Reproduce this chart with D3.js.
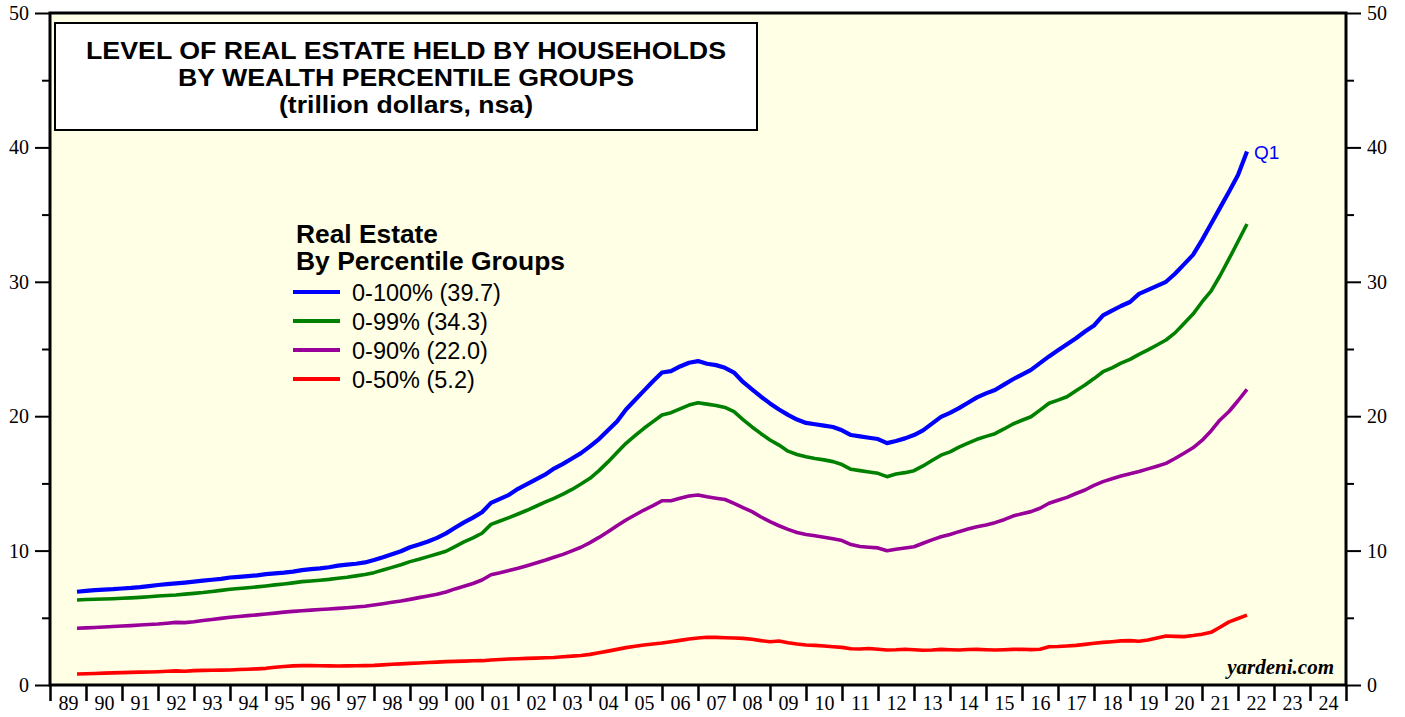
<!DOCTYPE html>
<html>
<head>
<meta charset="utf-8">
<script src="https://d3js.org/d3.v7.min.js"></script>
<style>
  body { margin: 0; background: #ffffff; }
</style>
</head>
<body>
<script>
//real estate held by households, quarterly, 1989Q3 - 2022Q1 (trillion dollars)

//first quarter shown, series run quarterly from here
var startYear = 1989, startQuarter = 3;

//0-100% (all households)
var allHouseholds = [
  6.94, 7.00,
  7.06, 7.10, 7.13, 7.18,
  7.22, 7.28, 7.36, 7.44,
  7.50, 7.56, 7.62, 7.69,
  7.76, 7.83, 7.90, 8.00,
  8.05, 8.10, 8.16, 8.25,
  8.30, 8.36, 8.44, 8.55,
  8.62, 8.68, 8.76, 8.88,
  8.95, 9.02, 9.12, 9.30,
  9.50, 9.72, 9.95, 10.25,
  10.45, 10.68, 10.95, 11.28,
  11.70, 12.10, 12.45, 12.85,
  13.55, 13.85, 14.15, 14.60,
  14.95, 15.30, 15.65, 16.10,
  16.45, 16.85, 17.25, 17.75,
  18.30, 18.95, 19.60, 20.50,
  21.20, 21.90, 22.60, 23.25,
  23.35, 23.70, 23.98, 24.10,
  23.90, 23.80, 23.60, 23.25,
  22.55, 22.00, 21.45, 20.95,
  20.50, 20.10, 19.75, 19.50,
  19.40, 19.30, 19.20, 18.95,
  18.60, 18.50, 18.40, 18.30,
  18.00, 18.15, 18.35, 18.60,
  18.95, 19.45, 19.95, 20.25,
  20.60, 21.00, 21.40, 21.70,
  21.95, 22.35, 22.75, 23.10,
  23.45, 23.95, 24.45, 24.90,
  25.35, 25.80, 26.30, 26.75,
  27.50, 27.85, 28.20, 28.50,
  29.10, 29.40, 29.70, 30.00,
  30.60, 31.30, 32.00, 33.10,
  34.30, 35.50, 36.70, 37.95,
  39.70
];

//0-99%
var bottom99 = [
  6.32, 6.36,
  6.38, 6.40, 6.42, 6.45,
  6.48, 6.52, 6.57, 6.62,
  6.66, 6.70, 6.76, 6.82,
  6.88, 6.96, 7.04, 7.12,
  7.18, 7.24, 7.30, 7.37,
  7.45, 7.52, 7.60, 7.69,
  7.74, 7.80, 7.86, 7.94,
  8.02, 8.12, 8.22, 8.36,
  8.55, 8.75, 8.95, 9.18,
  9.35, 9.55, 9.75, 9.95,
  10.30, 10.65, 10.95, 11.29,
  11.95, 12.20, 12.45, 12.72,
  13.00, 13.30, 13.60, 13.89,
  14.20, 14.55, 14.95, 15.38,
  15.95, 16.60, 17.30, 17.98,
  18.55, 19.10, 19.60, 20.09,
  20.26, 20.55, 20.83, 21.00,
  20.90, 20.80, 20.65, 20.34,
  19.75, 19.20, 18.70, 18.23,
  17.85, 17.40, 17.15, 16.99,
  16.85, 16.75, 16.62, 16.40,
  16.05, 15.95, 15.85, 15.75,
  15.50, 15.70, 15.80, 15.95,
  16.30, 16.70, 17.10, 17.35,
  17.70, 18.00, 18.28, 18.50,
  18.70, 19.05, 19.42, 19.70,
  19.96, 20.45, 20.96, 21.20,
  21.45, 21.90, 22.32, 22.80,
  23.31, 23.60, 23.95, 24.23,
  24.60, 24.93, 25.30, 25.67,
  26.20, 26.90, 27.60, 28.50,
  29.30, 30.45, 31.70, 33.00,
  34.30
];

//0-90%
var bottom90 = [
  4.22, 4.25,
  4.28, 4.31, 4.35, 4.39,
  4.42, 4.46, 4.50, 4.54,
  4.60, 4.66, 4.64, 4.71,
  4.80, 4.88, 4.96, 5.04,
  5.10, 5.16, 5.22, 5.28,
  5.35, 5.42, 5.48, 5.53,
  5.57, 5.62, 5.66, 5.70,
  5.75, 5.80, 5.86, 5.95,
  6.05, 6.15, 6.25, 6.37,
  6.50, 6.62, 6.75, 6.92,
  7.15, 7.35, 7.55, 7.81,
  8.20, 8.35, 8.52, 8.68,
  8.88, 9.08, 9.28, 9.50,
  9.72, 9.98, 10.25, 10.59,
  10.98, 11.40, 11.85, 12.28,
  12.65, 13.02, 13.35, 13.71,
  13.71, 13.90, 14.06, 14.14,
  14.00, 13.90, 13.80, 13.52,
  13.20, 12.90, 12.50, 12.15,
  11.85, 11.58, 11.35, 11.20,
  11.10, 11.00, 10.88, 10.75,
  10.45, 10.30, 10.25, 10.20,
  9.99, 10.10, 10.20, 10.29,
  10.55, 10.80, 11.03, 11.20,
  11.41, 11.60, 11.78, 11.90,
  12.08, 12.30, 12.57, 12.75,
  12.90, 13.15, 13.52, 13.75,
  13.96, 14.25, 14.51, 14.85,
  15.13, 15.35, 15.55, 15.72,
  15.88, 16.08, 16.28, 16.49,
  16.85, 17.24, 17.65, 18.20,
  18.90, 19.72, 20.35, 21.15,
  22.00
];

//0-50%
var bottom50 = [
  0.82, 0.84,
  0.86, 0.88, 0.90, 0.92,
  0.94, 0.96, 0.97, 0.99,
  1.02, 1.05, 1.02, 1.07,
  1.09, 1.10, 1.11, 1.12,
  1.15, 1.17, 1.20, 1.24,
  1.32, 1.38, 1.42, 1.44,
  1.44, 1.43, 1.42, 1.41,
  1.42, 1.43, 1.44, 1.46,
  1.50, 1.54, 1.57, 1.61,
  1.64, 1.67, 1.70, 1.74,
  1.76, 1.78, 1.80, 1.81,
  1.86, 1.90, 1.93, 1.95,
  1.98, 2.00, 2.03, 2.05,
  2.10, 2.15, 2.20, 2.28,
  2.40, 2.52, 2.65, 2.78,
  2.88, 2.97, 3.05, 3.12,
  3.22, 3.32, 3.42, 3.50,
  3.55, 3.54, 3.52, 3.50,
  3.47, 3.40, 3.30, 3.22,
  3.27, 3.15, 3.05, 2.98,
  2.95, 2.90, 2.85, 2.80,
  2.70, 2.68, 2.72, 2.66,
  2.60, 2.62, 2.66, 2.62,
  2.58, 2.60, 2.65, 2.62,
  2.60, 2.64, 2.65, 2.62,
  2.60, 2.62, 2.65, 2.66,
  2.63, 2.66, 2.85, 2.86,
  2.90, 2.95, 3.02, 3.10,
  3.17, 3.22, 3.28, 3.30,
  3.25, 3.35, 3.50, 3.65,
  3.62, 3.60, 3.68, 3.78,
  3.92, 4.30, 4.70, 4.95,
  5.20
];

//legend labels, series colours
var seriesNames = ["0-100% (39.7)", "0-99% (34.3)", "0-90% (22.0)", "0-50% (5.2)"];
var seriesColors = ["#0000ff", "#008000", "#990099", "#ff0000"];
var seriesValues = [allHouseholds, bottom99, bottom90, bottom50];

//axis ticks
var yMajorTicks = [0, 10, 20, 30, 40, 50];
var yMinorTicks = [5, 15, 25, 35, 45];
var yearTicks = d3.range(1989, 2026);
var yearLabels = ["89","90","91","92","93","94","95","96","97","98","99","00","01","02","03","04","05","06","07","08","09","10","11","12","13","14","15","16","17","18","19","20","21","22","23","24"];

var titleLines = ["LEVEL OF REAL ESTATE HELD BY HOUSEHOLDS", "BY WEALTH PERCENTILE GROUPS", "(trillion dollars, nsa)"];
var titleWidths = [640, 456, 254]; //measured line widths in the original

window.onload = function(){
    var width = 1405, height = 717;
    var left = 50, right = 1346, top = 13, bottom = 685;
    var fontSans = "'Liberation Sans', Arial, sans-serif";
    var fontSerif = "'Liberation Serif', 'Times New Roman', serif";

    var svg = d3.select("body")
        .append("svg")
        .attr("width", width)
        .attr("height", height)
        .style("display", "block");

    //scales
    var x = d3.scaleLinear().domain([1989, 2025]).range([left, right]);
    var y = d3.scaleLinear().domain([0, 50]).range([bottom, top]);

    //time of each quarter, plotted at end of quarter
    var quarterTime = function(i){
        return startYear + (startQuarter - 1) / 4 + (i + 1) / 4;
    };

    //plot background
    svg.append("rect")
        .attr("x", left)
        .attr("y", top)
        .attr("width", right - left)
        .attr("height", bottom - top)
        .style("fill", "#ffffe6");

    //left axis, major + minor ticks
    svg.append("g")
        .attr("transform", "translate(" + left + ",0)")
        .call(d3.axisLeft(y).tickValues(yMajorTicks).tickSize(15).tickPadding(6).tickFormat(d3.format("d")))
        .call(function(g){ g.select(".domain").remove(); })
        .call(function(g){ g.selectAll("line").attr("stroke-width", 2); })
        .call(function(g){ g.selectAll("text").style("font-family", fontSerif).style("font-size", "20px").attr("fill", "#000"); });
    svg.append("g")
        .attr("transform", "translate(" + left + ",0)")
        .call(d3.axisLeft(y).tickValues(yMinorTicks).tickSize(8).tickFormat(""))
        .call(function(g){ g.select(".domain").remove(); })
        .call(function(g){ g.selectAll("line").attr("stroke-width", 2); });

    //right axis
    svg.append("g")
        .attr("transform", "translate(" + right + ",0)")
        .call(d3.axisRight(y).tickValues(yMajorTicks).tickSize(15).tickPadding(6).tickFormat(d3.format("d")))
        .call(function(g){ g.select(".domain").remove(); })
        .call(function(g){ g.selectAll("line").attr("stroke-width", 2); })
        .call(function(g){ g.selectAll("text").style("font-family", fontSerif).style("font-size", "20px").attr("fill", "#000"); });
    svg.append("g")
        .attr("transform", "translate(" + right + ",0)")
        .call(d3.axisRight(y).tickValues(yMinorTicks).tickSize(8).tickFormat(""))
        .call(function(g){ g.select(".domain").remove(); })
        .call(function(g){ g.selectAll("line").attr("stroke-width", 2); });

    //bottom axis: year ticks, labels centred between them
    svg.append("g")
        .attr("transform", "translate(0," + bottom + ")")
        .call(d3.axisBottom(x).tickValues(yearTicks).tickSize(16).tickFormat(""))
        .call(function(g){ g.select(".domain").remove(); })
        .call(function(g){ g.selectAll("line").attr("stroke-width", 2.5); });
    svg.append("g")
        .attr("transform", "translate(0," + bottom + ")")
        .call(d3.axisBottom(x).tickValues(yearLabels.map(function(d, i){ return 1989.5 + i; }))
            .tickSize(0).tickPadding(11).tickFormat(function(d, i){ return yearLabels[i]; }))
        .call(function(g){ g.select(".domain").remove(); })
        .call(function(g){ g.selectAll("text").style("font-family", fontSerif).style("font-size", "20px").attr("fill", "#000"); });

    //lines
    var line = d3.line()
        .x(function(d, i){ return x(quarterTime(i)); })
        .y(function(d){ return y(d); });

    //draw bottom series first so blue sits on top
    for (var s = seriesValues.length - 1; s >= 0; s--){
        svg.append("path")
            .datum(seriesValues[s])
            .attr("d", line)
            .attr("fill", "none")
            .attr("stroke", seriesColors[s])
            .attr("stroke-width", s == 0 ? 4.2 : 3.6)
            .attr("stroke-linejoin", "round");
    }

    //frame round the plot
    svg.append("rect")
        .attr("x", left)
        .attr("y", top)
        .attr("width", right - left)
        .attr("height", bottom - top)
        .style("fill", "none")
        .style("stroke", "#000")
        .style("stroke-width", 3);

    //title box
    svg.append("rect")
        .attr("x", 55)
        .attr("y", 23)
        .attr("width", 702)
        .attr("height", 107)
        .style("fill", "#fff")
        .style("stroke", "#000")
        .style("stroke-width", 2);
    svg.selectAll(".title")
        .data(titleLines)
        .enter()
        .append("text")
        .attr("class", "title")
        .attr("x", 406)
        .attr("y", function(d, i){ return 59 + i * 27; })
        .attr("text-anchor", "middle")
        .attr("textLength", function(d, i){ return titleWidths[i]; })
        .attr("lengthAdjust", "spacingAndGlyphs")
        .style("font-family", fontSans)
        .style("font-weight", "bold")
        .style("font-size", "24px")
        .text(function(d){ return d; });

    //legend
    var legend = svg.append("g");
    legend.append("text")
        .attr("x", 296).attr("y", 243)
        .attr("textLength", 142).attr("lengthAdjust", "spacingAndGlyphs")
        .style("font-family", fontSans)
        .style("font-weight", "bold").style("font-size", "25px")
        .text("Real Estate");
    legend.append("text")
        .attr("x", 296).attr("y", 270)
        .attr("textLength", 269).attr("lengthAdjust", "spacingAndGlyphs")
        .style("font-family", fontSans)
        .style("font-weight", "bold").style("font-size", "25px")
        .text("By Percentile Groups");
    var rows = legend.selectAll(".row")
        .data(seriesNames)
        .enter()
        .append("g")
        .attr("class", "row")
        .attr("transform", function(d, i){ return "translate(0," + (292 + i * 29) + ")"; });
    rows.append("line")
        .attr("x1", 293).attr("x2", 340)
        .attr("stroke", function(d, i){ return seriesColors[i]; })
        .attr("stroke-width", 4);
    rows.append("text")
        .attr("x", 352).attr("y", 9)
        .style("font-family", fontSans)
        .style("font-size", "23.5px")
        .text(function(d){ return d; });

    //latest quarter marker
    svg.append("text")
        .attr("x", x(quarterTime(allHouseholds.length - 1)) + 7)
        .attr("y", y(allHouseholds[allHouseholds.length - 1]) + 8)
        .style("font-family", fontSans)
        .style("font-size", "19px")
        .attr("fill", "#0000ff")
        .text("Q1");

    //source
    svg.append("text")
        .attr("x", 1334).attr("y", 674)
        .attr("text-anchor", "end")
        .style("font-family", fontSerif)
        .style("font-weight", "bold").style("font-style", "italic")
        .style("font-size", "21px")
        .text("yardeni.com");
};
</script>
</body>
</html>
